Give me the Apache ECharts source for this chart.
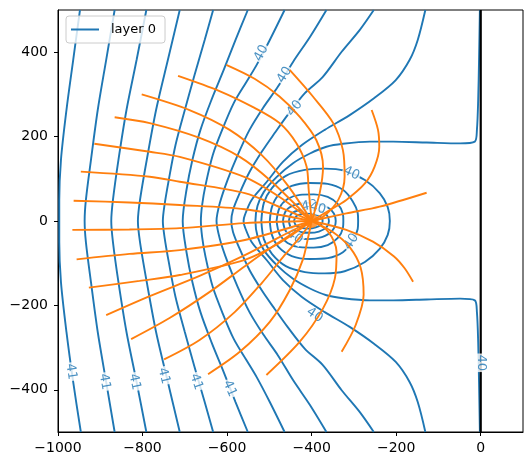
<!DOCTYPE html>
<html>
<head>
<meta charset="utf-8">
<script src="https://cdn.jsdelivr.net/npm/echarts@6/dist/echarts.min.js"></script>
<style>
  html, body { margin: 0; padding: 0; background: #fff; }
  #chart { width: 532px; height: 466px; }
</style>
</head>
<body>
<div id="chart"></div>
<script>
// axis ticks
var xTickValues = [-1000, -800, -600, -400, -200, 0]
var yTickValues = [-400, -200, 0, 200, 400]

// head contours that run from the top edge to the bottom edge (layer 0)
var openContours = [
  [[-948, 500], [-964, 382], [-980, 263], [-993, 145], [-997, 50], [-997, 0], [-997, -50], [-993, -145], [-980, -263], [-964, -382], [-946, -500]],
  [[-866, 500], [-886, 382], [-906, 263], [-922, 145], [-934, 50], [-937, 0], [-934, -50], [-922, -145], [-906, -263], [-886, -382], [-866, -500]],
  [[-791, 500], [-814, 382], [-838, 263], [-857, 145], [-870, 50], [-874, 0], [-870, -50], [-857, -145], [-838, -263], [-814, -382], [-791, -500]],
  [[-712, 500], [-740, 382], [-768, 263], [-790, 145], [-806, 50], [-811, 0], [-806, -50], [-790, -145], [-768, -263], [-740, -382], [-712, -500]],
  [[-633, 500], [-653, 429], [-677, 346], [-700, 263], [-722, 180], [-738, 97], [-748, 38], [-752, 0], [-748, -38], [-738, -97], [-722, -180], [-700, -263], [-677, -346], [-653, -429], [-633, -500]],
  [[-551, 500], [-580, 429], [-608, 358], [-637, 287], [-663, 216], [-682, 145], [-696, 74], [-705, 0], [-696, -74], [-682, -145], [-663, -216], [-637, -287], [-608, -358], [-580, -429], [-551, -500]],
  [[-464, 500], [-499, 429], [-530, 370], [-554, 330], [-584, 280], [-610, 220], [-634, 156], [-651, 85], [-659, 38], [-662, 0], [-659, -38], [-651, -85], [-634, -156], [-610, -220], [-584, -280], [-554, -330], [-530, -370], [-499, -429], [-464, -500]],
  [[-365, 500], [-404, 436], [-444, 377], [-480, 318], [-515, 268], [-547, 216], [-575, 156], [-599, 97], [-617, 43], [-625, 0], [-617, -43], [-599, -97], [-575, -156], [-547, -216], [-515, -268], [-480, -318], [-444, -377], [-404, -436], [-365, -500]],
  [[-253, 500], [-286, 453], [-329, 401], [-374, 341], [-416, 303], [-457, 251], [-487, 209], [-518, 164], [-547, 116], [-572, 62], [-586, 26], [-590, 0], [-586, -26], [-572, -62], [-547, -116], [-518, -164], [-487, -209], [-457, -251], [-416, -303], [-374, -341], [-329, -401], [-286, -453], [-253, -500]],
  [[-131, 500], [-149, 429], [-168, 382], [-201, 334], [-251, 292], [-310, 251], [-369, 216], [-423, 180], [-468, 140], [-506, 93], [-542, 50], [-558, 14], [-561, 0], [-558, -14], [-542, -50], [-506, -93], [-468, -140], [-423, -180], [-369, -216], [-310, -251], [-251, -292], [-201, -334], [-168, -382], [-149, -429], [-131, -500]],
  [[-2, 500], [-4, 382], [-6, 287], [-9, 216], [-14, 188], [-49, 184], [-128, 186], [-207, 188], [-262, 188], [-326, 183], [-365, 176], [-404, 160], [-444, 137], [-483, 104], [-513, 69], [-528, 36], [-533, 0], [-528, -36], [-513, -69], [-483, -104], [-444, -137], [-404, -160], [-365, -176], [-326, -183], [-262, -188], [-207, -188], [-128, -186], [-49, -184], [-14, -188], [-9, -216], [-6, -287], [-4, -382], [-2, -500]]
]

// closed head contours around the well
var closedContours = [
  [[-519, 0], [-513, 43], [-494, 78], [-461, 107], [-416, 121], [-369, 124], [-322, 119], [-274, 97], [-239, 66], [-220, 33], [-215, 0], [-220, -33], [-239, -66], [-274, -97], [-322, -119], [-369, -124], [-416, -121], [-461, -107], [-494, -78], [-513, -43], [-519, 0]],
  [[-499, 0], [-494, 33], [-478, 62], [-447, 83], [-404, 90], [-362, 88], [-326, 74], [-303, 47], [-291, 19], [-290, 0], [-291, -19], [-303, -47], [-326, -74], [-362, -88], [-404, -90], [-447, -83], [-478, -62], [-494, -33], [-499, 0]],
  [[-483, 0], [-476, 31], [-457, 52], [-428, 62], [-395, 63], [-362, 57], [-338, 40], [-326, 17], [-325, 0], [-326, -17], [-338, -40], [-362, -57], [-395, -63], [-428, -62], [-457, -52], [-476, -31], [-483, 0]],
  [[-468, 0], [-461, 24], [-440, 38], [-409, 43], [-376, 38], [-352, 24], [-343, 0], [-352, -24], [-376, -38], [-409, -43], [-440, -38], [-461, -24], [-468, 0]],
  [[-454, 0], [-448, 17], [-428, 26], [-405, 28], [-383, 25], [-365, 15], [-359, 0], [-365, -15], [-383, -25], [-405, -28], [-428, -26], [-448, -17], [-454, 0]],
  [[-442, 0], [-436, 12], [-422, 17], [-407, 18], [-390, 15], [-378, 9], [-374, 0], [-378, -9], [-390, -15], [-407, -18], [-422, -17], [-436, -12], [-442, 0]]
]

// pathlines traced back from the well
var pathlines = [
  [[-966, -21], [-831, -20], [-712, -17], [-558, -5], [-400, 0]],
  [[-963, 48], [-831, 44], [-712, 38], [-558, 28], [-400, 0]],
  [[-946, 117], [-783, 105], [-712, 93], [-558, 66], [-476, 33], [-400, 0]],
  [[-914, 183], [-783, 164], [-712, 152], [-558, 104], [-476, 57], [-400, 0]],
  [[-866, 246], [-783, 232], [-665, 197], [-570, 152], [-499, 97], [-400, 0]],
  [[-802, 300], [-689, 263], [-594, 216], [-518, 156], [-457, 85], [-400, 0]],
  [[-716, 344], [-618, 308], [-535, 268], [-476, 232], [-436, 184], [-412, 129], [-407, 74], [-400, 0]],
  [[-602, 370], [-535, 337], [-476, 295], [-428, 247], [-389, 192], [-373, 129], [-381, 66], [-400, 0]],
  [[-452, 358], [-397, 295], [-349, 232], [-326, 168], [-322, 105], [-337, 50], [-373, 10], [-400, 0]],
  [[-258, 263], [-243, 216], [-240, 176], [-251, 129], [-274, 89], [-318, 50], [-357, 26], [-400, 0]],
  [[-128, 67], [-239, 34], [-318, 18], [-400, 0]],
  [[-160, -144], [-180, -112], [-205, -84], [-255, -49], [-318, -21], [-400, 0]],
  [[-329, -310], [-296, -247], [-277, -175], [-284, -111], [-310, -62], [-350, -26], [-400, 0]],
  [[-507, -365], [-428, -286], [-373, -207], [-345, -136], [-341, -73], [-361, -25], [-400, 0]],
  [[-645, -363], [-570, -310], [-499, -239], [-452, -164], [-421, -92], [-407, -33], [-400, 0]],
  [[-749, -328], [-665, -282], [-582, -216], [-518, -147], [-464, -81], [-423, -33], [-400, 0]],
  [[-827, -280], [-736, -230], [-641, -168], [-558, -107], [-487, -57], [-400, 0]],
  [[-886, -223], [-783, -178], [-665, -130], [-558, -81], [-476, -38], [-400, 0]],
  [[-927, -158], [-807, -142], [-712, -128], [-558, -92], [-476, -52], [-400, 0]],
  [[-956, -91], [-831, -78], [-712, -69], [-558, -45], [-400, 0]]
]

// contour labels: x, y, text
var contourLabels = [
  [-969, -357, '41'], [-890, -381, '41'], [-819, -381, '41'], [-750, -367, '41'], [-673, -381, '41'], [-594, -397, '41'],
  [-519, 398, '40'], [-464, 346, '40'], [-440, 267, '40'],
  [-306, 113, '40'], [-306, -49, '40'], [-393, -223, '40'], [-440, -37, '40'],
  [-405, 36, '40'], [-386, 30, '40'], [2, -336, '40']
]
var labelAngles = [-82, -80, -78, -76, -72, -66, 62, 58, 52, -24, 57, -34, -35, 10, -15, -90]

var wellLocation = [[-400, 0]]
var riverLine = [[0, -500], [0, 500]]

var blue = '#1f77b4'
var orange = '#ff7f0e'
var font = 'DejaVu Sans'
var minus = function (v) { return String(v).replace('-', '\u2212') }

var chart = echarts.init(document.getElementById('chart'), null, { renderer: 'canvas' })

var series = []
openContours.concat(closedContours).forEach(function (line) {
  series.push({
    type: 'line', name: 'layer 0', data: line, symbol: 'none', smooth: 0.3,
    lineStyle: { color: blue, width: 1.9 }, itemStyle: { color: blue }, z: 2, silent: true
  })
})
series.push({
  type: 'line', name: 'river', data: riverLine, symbol: 'none',
  lineStyle: { color: '#000', width: 2.2 }, z: 2, silent: true
})
series.push({
  type: 'scatter', name: 'labels', symbolSize: 1, itemStyle: { color: 'rgba(0,0,0,0)' }, z: 3, silent: true,
  data: contourLabels.map(function (d, i) {
    return {
      value: [d[0], d[1]],
      label: {
        show: true, position: 'inside', formatter: d[2], rotate: labelAngles[i],
        color: blue, fontSize: 13, fontFamily: font,
        backgroundColor: '#fff', padding: [0, 1]
      }
    }
  })
})
pathlines.forEach(function (line) {
  series.push({
    type: 'line', name: 'path', data: line, symbol: 'none', smooth: 0.3,
    lineStyle: { color: orange, width: 1.9 }, z: 4, silent: true
  })
})
series.push({
  type: 'scatter', name: 'well', data: wellLocation, symbolSize: 14,
  itemStyle: { color: orange }, z: 5, silent: true
})

chart.setOption({
  animation: false,
  grid: { left: 58, right: 9, top: 10, bottom: 34, show: true, borderColor: '#000', borderWidth: 1, backgroundColor: '#fff' },
  legend: {
    data: [{ name: 'layer 0', icon: 'rect' }], left: 66, top: 16,
    itemWidth: 28, itemHeight: 2, padding: [6, 9, 6, 5],
    itemStyle: { color: blue },
    backgroundColor: 'rgba(255,255,255,0.8)', borderColor: '#ccc', borderWidth: 1, borderRadius: 3,
    textStyle: { fontFamily: font, fontSize: 13, color: '#000', padding: [0, 0, 0, 7], lineHeight: 15 }
  },
  xAxis: {
    type: 'value', min: -1000, max: 100,
    splitLine: { show: false },
    axisLine: { onZero: false, lineStyle: { color: '#000', width: 1 } },
    axisTick: { length: 4, lineStyle: { color: '#000' }, customValues: xTickValues },
    axisLabel: { customValues: xTickValues, formatter: minus, color: '#000', fontFamily: font, fontSize: 14, margin: 9 }
  },
  yAxis: {
    type: 'value', min: -500, max: 500,
    splitLine: { show: false },
    axisLine: { onZero: false, lineStyle: { color: '#000', width: 1 } },
    axisTick: { length: 4, lineStyle: { color: '#000' }, customValues: yTickValues },
    axisLabel: { customValues: yTickValues, formatter: minus, color: '#000', fontFamily: font, fontSize: 14, margin: 10 }
  },
  series: series
})
</script>
</body>
</html>
